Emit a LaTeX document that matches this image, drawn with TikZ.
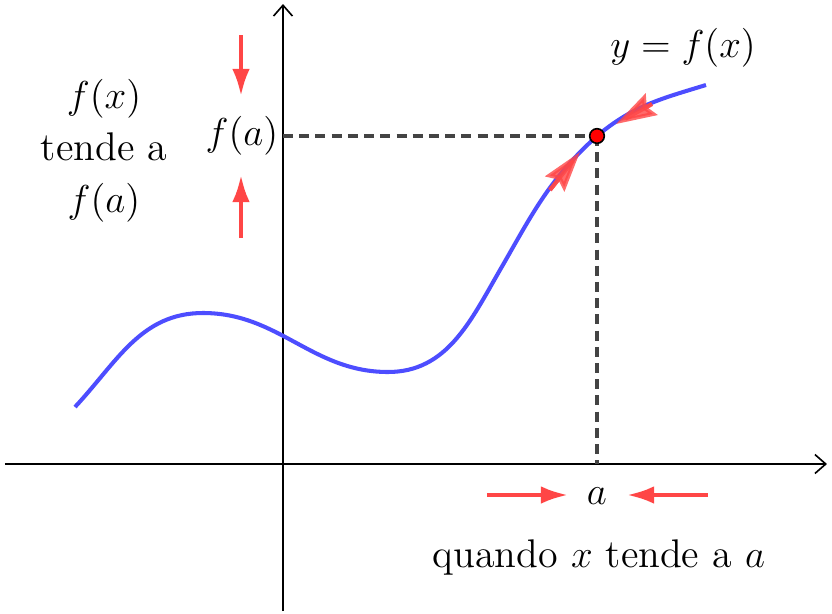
\documentclass[tikz,border=0pt]{standalone}
\usetikzlibrary{arrows.meta}
\definecolor{curveblue}{RGB}{77,77,255}
\definecolor{arrred}{RGB}{255,70,70}
\definecolor{dashgray}{RGB}{68,68,68}
\tikzset{
  axis/.style={line width=0.6pt, black, -{Straight Barb[length=4pt,width=7pt]}},
  fcurve/.style={line width=1.5pt, curveblue},
  guide/.style={line width=1.5pt, dashgray, dash pattern=on 3.7pt off 2.3pt},
  redarr/.style={line width=1.5pt, arrred, -{Latex[length=10pt,width=6.5pt]}},
  curvearr/.style={line width=1.5pt, arrred, opacity=0.8, -{Stealth[length=15pt,width=9pt,inset=2pt]}},
  curveline/.style={line width=1.5pt, arrred, opacity=0.8, shorten >=4pt},
  lbl/.style={font=\fontsize{14.8}{19.2}\selectfont, inner sep=0pt, align=center},
  pointdot/.style={circle, draw=black, fill=red, line width=0.6pt, minimum size=5.4pt, inner sep=0pt}
}
\begin{document}
\begin{tikzpicture}[x=0.37pt, y=-0.37pt]
\useasboundingbox (0,0) rectangle (832,614);
% axes
\coordinate (xs) at (5,464);
\coordinate (xe) at (827,464);
\coordinate (ys) at (283,611);
\coordinate (ye) at (283,4);
\draw[axis] (xs) -- (xe);
\draw[axis] (ys) -- (ye);
% point and guides
\coordinate (fa) at (283,136);
\coordinate (ax) at (597,464);
\coordinate (Pc) at (597,136);
\draw[guide] (fa) -- (Pc);
\draw[guide] (Pc) -- (ax);
% curve
\draw[fcurve] (75,407) to[out=47,in=180] (203,313)
  to[out=0,in=180] (388,372)
  to[out=0,in=240] (500,270)
  to[out=60,in=222] (Pc)
  to[out=40,in=197] (706,85);
% arrows on the curve
\coordinate (ua) at (652,104);
\coordinate (ub) at (616,124);
\coordinate (la) at (550,190);
\coordinate (lb) at (580,152);
\draw[curvearr] (ua) -- (ub);
\draw[curveline] (ua) -- (ub);
\draw[curvearr] (la) -- (lb);
\draw[curveline] (la) -- (lb);
\node[pointdot] (P) at (Pc) {};
% labels
\node[lbl] (yfx) at (683,48) {$y=f(x)$};
\node[lbl] (fal) at (242,136) {$f(a)$};
\node[lbl] (lefttxt) at (104,151) {$f(x)$\\tende a\\$f(a)$};
\node[lbl] (al) at (597,496) {$a$};
\node[lbl] (qt) at (599,557) {quando $x$ tende a $a$};
% red arrows near f(a)
\coordinate (v1s) at (241,35);
\coordinate (v1e) at (241,96);
\coordinate (v2s) at (241,238);
\coordinate (v2e) at (241,175);
\draw[redarr] (v1s) -- (v1e);
\draw[redarr] (v2s) -- (v2e);
% red arrows near a
\coordinate (h1s) at (487,495);
\coordinate (h1e) at (568,495);
\coordinate (h2s) at (708,495);
\coordinate (h2e) at (627,495);
\draw[redarr] (h1s) -- (h1e);
\draw[redarr] (h2s) -- (h2e);
\end{tikzpicture}
\end{document}
